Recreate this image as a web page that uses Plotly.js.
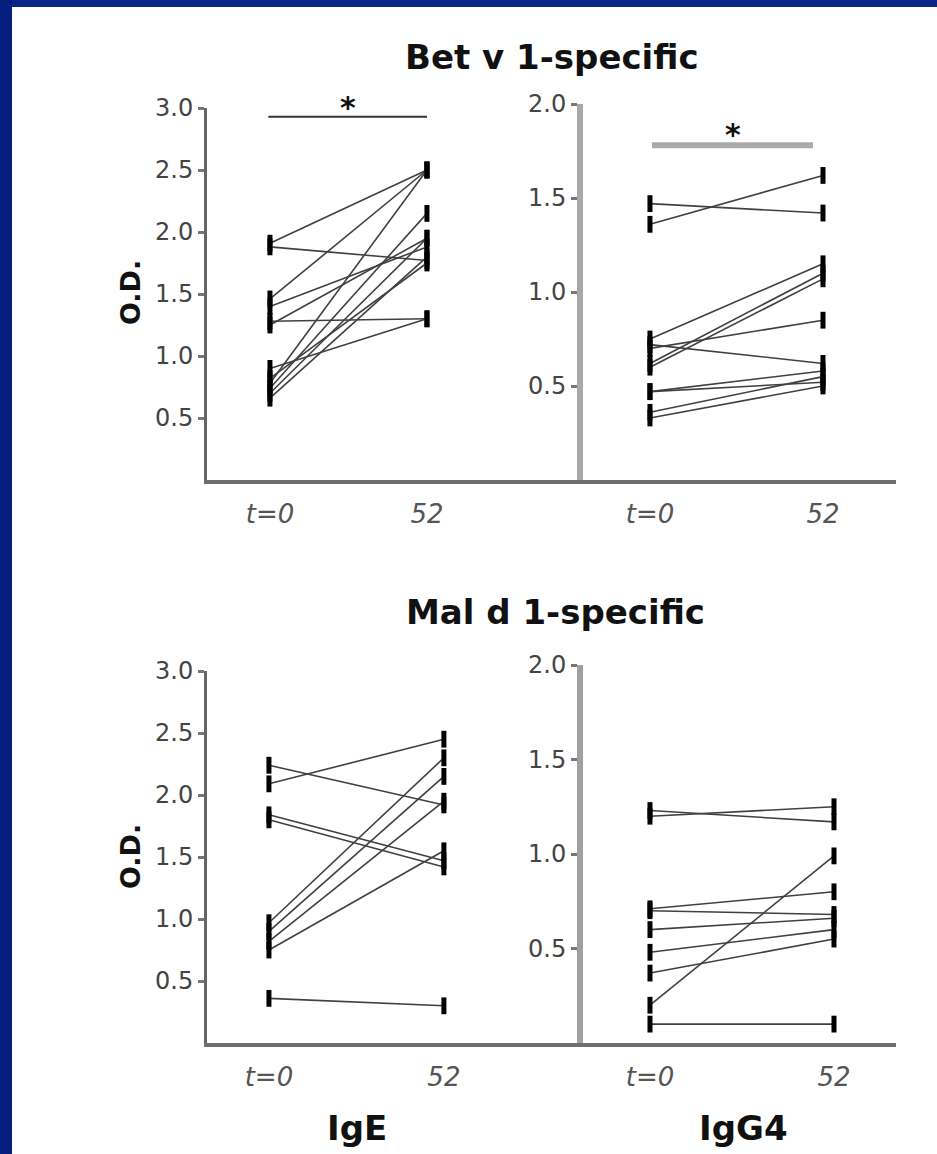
<!DOCTYPE html>
<html>
<head>
<meta charset="utf-8">
<script src="https://cdn.plot.ly/plotly-3.0.1.min.js"></script>
<style>html,body{margin:0;padding:0;background:#fff;}#chart{width:937px;height:1154px;}</style>
</head>
<body>
<div id="chart"></div>
<script>
// ---- data (O.D. values) ----
var timeLabels = ['t=0', '52'];
var timeX = [0, 1];

// Bet v 1-specific IgE
var betIgE_t0  = [1.91, 1.88, 1.46, 1.40, 1.28, 1.25, 0.90, 0.78, 0.74, 0.70, 0.66, 0.82];
var betIgE_w52 = [2.50, 1.77, 2.50, 1.88, 1.30, 1.95, 1.30, 2.50, 2.15, 1.95, 1.80, 1.75];

// Bet v 1-specific IgG4
var betIgG4_t0  = [1.47, 1.36, 0.75, 0.72, 0.70, 0.62, 0.60, 0.47, 0.47, 0.36, 0.33];
var betIgG4_w52 = [1.42, 1.62, 1.15, 0.62, 0.85, 1.10, 1.07, 0.58, 0.52, 0.55, 0.50];

// Mal d 1-specific IgE
var malIgE_t0  = [2.24, 2.09, 1.84, 1.80, 0.97, 0.90, 0.82, 0.75, 0.36];
var malIgE_w52 = [1.92, 2.45, 1.47, 1.42, 2.30, 2.15, 1.95, 1.55, 0.30];

// Mal d 1-specific IgG4
var malIgG4_t0  = [1.23, 1.20, 0.71, 0.70, 0.60, 0.48, 0.37, 0.20, 0.10];
var malIgG4_w52 = [1.17, 1.25, 0.80, 0.68, 0.66, 0.60, 0.55, 0.99, 0.10];

var leftTicks = [0.5, 1.0, 1.5, 2.0, 2.5, 3.0];
var rightTicks = [0.5, 1.0, 1.5, 2.0];

// ---- build traces ----
var traces = [];
function addPanel(t0, w52, xa, ya) {
  for (var i = 0; i < t0.length; i++) {
    traces.push({
      type: 'scatter', mode: 'lines+markers',
      x: timeX, y: [t0[i], w52[i]],
      xaxis: xa, yaxis: ya,
      line: {color: '#404040', width: 1.6},
      marker: {symbol: 'line-ns-open', size: 12, color: '#000', line: {color: '#000', width: 5}},
      hoverinfo: 'skip', showlegend: false
    });
  }
}
addPanel(betIgE_t0, betIgE_w52, 'x', 'y');
addPanel(betIgG4_t0, betIgG4_w52, 'x2', 'y2');
addPanel(malIgE_t0, malIgE_w52, 'x3', 'y3');
addPanel(malIgG4_t0, malIgG4_w52, 'x4', 'y4');

var W = 937, H = 1154;
function px(v) { return v / W; }
function py(v) { return 1 - v / H; }

var FAM = 'DejaVu Sans, Verdana, sans-serif';
var tickFont = {family: FAM, size: 24, color: '#444'};
var xTickFont = {family: FAM, size: 26, color: '#555', style: 'italic'};

function xAxis(domain, range, anchor) {
  return {
    domain: domain, range: range, anchor: anchor,
    tickvals: timeX, ticktext: timeLabels,
    ticks: 'outside', ticklen: 8, tickcolor: 'rgba(0,0,0,0)',
    tickfont: xTickFont,
    showline: true, linecolor: '#6e6e6e', linewidth: 4,
    showgrid: false, zeroline: false, fixedrange: true
  };
}
function yAxis(domain, range, anchor, tv, lc, lw) {
  return {
    domain: domain, range: range, anchor: anchor,
    tickvals: tv, ticktext: tv.map(function (v) { return v.toFixed(1); }),
    ticks: 'outside', ticklen: 6, tickwidth: 3, tickcolor: '#777',
    tickfont: tickFont,
    showline: true, linecolor: lc, linewidth: lw,
    showgrid: false, zeroline: false, fixedrange: true
  };
}

var titleFont = {family: FAM, size: 34, color: '#111', weight: 'bold'};
var groupFont = {family: FAM, size: 34, color: '#111', weight: 'bold'};
var odFont = {family: FAM, size: 27, color: '#111', weight: 'bold'};
var starFont = {family: FAM, size: 30, color: '#111', weight: 'bold'};

function note(text, x, y, font, extra) {
  var a = {text: text, xref: 'paper', yref: 'paper', x: px(x), y: py(y),
           xanchor: 'center', yanchor: 'middle', showarrow: false, font: font};
  if (extra) { for (var k in extra) { a[k] = extra[k]; } }
  return a;
}

var layout = {
  width: W, height: H,
  margin: {l: 0, r: 0, t: 0, b: 0},
  paper_bgcolor: '#fff', plot_bgcolor: 'rgba(0,0,0,0)',
  showlegend: false,
  xaxis:  xAxis([px(207), px(583)], [-0.401, 1.994], 'y'),
  xaxis2: xAxis([px(583), px(896)], [-0.387, 1.422], 'y2'),
  xaxis3: xAxis([px(207), px(583)], [-0.354, 1.795], 'y3'),
  xaxis4: xAxis([px(583), px(896)], [-0.364, 1.337], 'y4'),
  yaxis:  yAxis([py(480), py(108)], [0, 3], 'x', leftTicks, '#666', 3),
  yaxis2: yAxis([py(480), py(104)], [0, 2], 'x2', rightTicks, '#a8a8a8', 6),
  yaxis3: yAxis([py(1043), py(671)], [0, 3], 'x3', leftTicks, '#666', 3),
  yaxis4: yAxis([py(1043), py(665)], [0, 2], 'x4', rightTicks, '#a0a0a0', 6),
  shapes: [
    {type: 'rect', xref: 'paper', yref: 'paper', x0: 0, x1: 1, y0: py(7), y1: 1, line: {width: 0}, fillcolor: '#0a2488'},
    {type: 'rect', xref: 'paper', yref: 'paper', x0: 0, x1: px(12), y0: 0, y1: 1, line: {width: 0}, fillcolor: '#061e80'},
    {type: 'line', xref: 'x', yref: 'y', x0: -0.01, x1: 1.0, y0: 2.93, y1: 2.93, line: {color: '#333', width: 2}},
    {type: 'line', xref: 'x2', yref: 'y2', x0: 0.012, x1: 0.942, y0: 1.78, y1: 1.78, line: {color: '#aaa', width: 6}}
  ],
  annotations: [
    note('Bet v 1-specific', 552, 57, titleFont),
    note('Mal d 1-specific', 555, 612, titleFont),
    note('O.D.', 130, 293, odFont, {textangle: -90}),
    note('O.D.', 130, 857, odFont, {textangle: -90}),
    note('IgE', 357, 1128, groupFont),
    note('IgG4', 743, 1128, groupFont),
    {text: '*', xref: 'x', yref: 'y', x: 0.5, y: 3.0, xanchor: 'center', yanchor: 'middle', showarrow: false, font: starFont},
    {text: '*', xref: 'x2', yref: 'y2', x: 0.48, y: 1.84, xanchor: 'center', yanchor: 'middle', showarrow: false, font: starFont}
  ]
};

Plotly.newPlot('chart', traces, layout, {staticPlot: true, displayModeBar: false});
</script>
</body>
</html>
